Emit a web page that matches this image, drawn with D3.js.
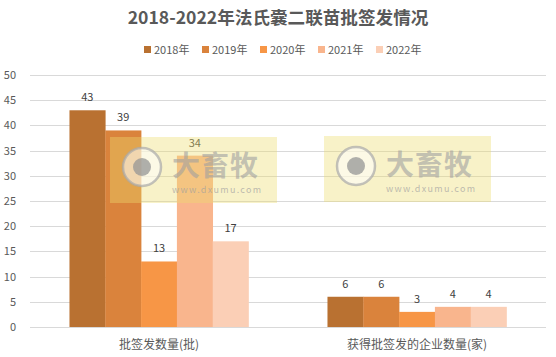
<!DOCTYPE html>
<html><head><meta charset="utf-8">
<script src="https://cdn.jsdelivr.net/npm/d3@7"></script>
<style>body{margin:0;background:#fff}svg{display:block;font-family:"Microsoft YaHei","Noto Sans CJK SC",sans-serif}</style>
</head><body><svg id="c" width="556" height="357"></svg>
<script>
const categories = ["批签发数量(批)", "获得批签发的企业数量(家)"];
const years = ["2018年", "2019年", "2020年", "2021年", "2022年"];
const values2018 = [43, 6];
const values2019 = [39, 6];
const values2020 = [13, 3];
const values2021 = [34, 4];
const values2022 = [17, 4];
const yTicks = [0, 5, 10, 15, 20, 25, 30, 35, 40, 45, 50];
const colors = ["#B97131", "#DA833C", "#F79646", "#F9B58D", "#FBCFB6"];

(function () {
const series = [values2018, values2019, values2020, values2021, values2022];
const svg = d3.select("#c");
const W = 556, H = 357;
const pL = 30, pR = 546, pT = 75, pB = 327;

const y = d3.scaleLinear().domain([0, 50]).range([pB, pT]);
const x0 = d3.scaleBand().domain(categories).range([pL, pR]).paddingInner(0.306).paddingOuter(0.153);
const x1 = d3.scaleBand().domain(years).range([0, x0.bandwidth()]);

// title
svg.append("text").attr("x", W/2).attr("y", 24).attr("text-anchor", "middle")
  .attr("font-size", 17.6).attr("font-weight", "bold").attr("fill", "#595959")
  .text("2018-2022年法氏囊二联苗批签发情况");

// legend
const legX = [144, 202, 260, 318, 376];
const leg = svg.append("g");
years.forEach((yr, i) => {
  const g = leg.append("g").attr("transform", `translate(${legX[i]},51)`);
  g.append("rect").attr("x", 0).attr("y", -5).attr("width", 7).attr("height", 7).attr("fill", colors[i]);
  g.append("text").attr("x", 10).attr("y", 3).attr("font-size", 11).attr("fill", "#595959").text(yr);
});

// grid
svg.append("g").selectAll("line").data(yTicks).join("line")
  .attr("x1", pL).attr("x2", pR)
  .attr("y1", d => Math.round(y(d)) + 0.5).attr("y2", d => Math.round(y(d)) + 0.5)
  .attr("stroke", "#D9D9D9").attr("stroke-width", 1);

// y axis labels
const yAxis = d3.axisLeft(y).tickValues(yTicks).tickSize(0).tickPadding(0);
const ya = svg.append("g").attr("transform", "translate(16,0)").call(yAxis);
ya.select(".domain").remove();
ya.selectAll("text").attr("font-size", 11).attr("fill", "#595959")
  .attr("font-family", "'Microsoft YaHei','Noto Sans CJK SC',sans-serif");

// x axis labels
const xAxis = d3.axisBottom(x0).tickSize(0).tickPadding(0);
const xa = svg.append("g").attr("transform", `translate(0,${pB + 11})`).call(xAxis);
xa.select(".domain").remove();
xa.selectAll("text").attr("font-size", 12).attr("fill", "#595959").attr("dy", "0.9em")
  .attr("font-family", "'Microsoft YaHei','Noto Sans CJK SC',sans-serif");

// bars
const groups = svg.append("g").selectAll("g").data(categories).join("g")
  .attr("transform", d => `translate(${x0(d)},0)`);
groups.each(function(cat, ci) {
  const g = d3.select(this);
  years.forEach((yr, si) => {
    const v = series[si][ci];
    g.append("rect").attr("x", x1(yr)).attr("y", y(v)).attr("width", x1.bandwidth() + 0.3)
      .attr("height", y(0) - y(v)).attr("fill", colors[si]);
    g.append("text").attr("x", x1(yr) + x1.bandwidth()/2).attr("y", y(v) - 9)
      .attr("text-anchor", "middle").attr("font-size", 11).attr("fill", "#404040").text(v);
  });
});

// watermarks
function watermark(wx, wy) {
  const g = svg.append("g").attr("transform", `translate(${wx},${wy})`);
  g.append("rect").attr("width", 167).attr("height", 66).attr("fill", "rgba(236,222,110,0.38)");
  g.append("circle").attr("cx", 32).attr("cy", 30).attr("r", 19).attr("fill", "rgba(255,255,255,0.55)")
    .attr("stroke", "rgba(170,170,170,0.7)").attr("stroke-width", 2.5);
  g.append("circle").attr("cx", 32).attr("cy", 30).attr("r", 9).attr("fill", "rgba(150,150,150,0.75)");
  g.append("text").attr("x", 62).attr("y", 39).attr("font-size", 28).attr("font-weight", "bold")
    .attr("letter-spacing", 1).attr("fill", "rgba(160,160,160,0.6)").text("大畜牧");
  g.append("text").attr("x", 62).attr("y", 56).attr("font-size", 9).attr("letter-spacing", 1.3)
    .attr("fill", "rgba(160,160,160,0.7)").text("www.dxumu.com");
}
watermark(110, 137);
watermark(324, 136);
})();
</script></body></html>
